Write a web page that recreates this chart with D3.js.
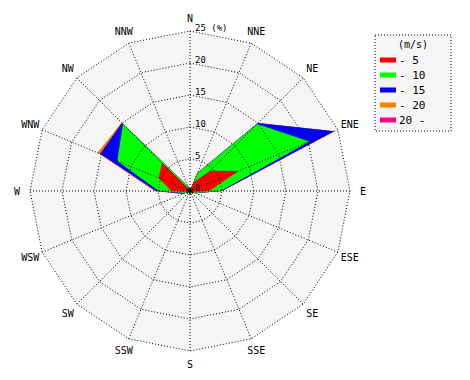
<!DOCTYPE html>
<html>
<head>
<meta charset="utf-8">
<script src="https://cdn.jsdelivr.net/npm/d3@7"></script>
<style>
  body { margin: 0; background: #fff; }
  text { font-family: "DejaVu Sans Mono", monospace; fill: #000; }
</style>
</head>
<body>
<svg id="rose" width="470" height="380"></svg>
<script>
// wind rose - frequency (%) by direction and speed class

var directions = ['N','NNE','NE','ENE','E','ESE','SE','SSE','S','SSW','SW','WSW','W','WNW','NW','NNW']
var speedClasses = ['- 5','- 10','- 15','- 20','20 -']
var classColors = ['#ff0000','#00ff00','#0000ff','#ff8000','#ff0080']

// per class frequency, %
var spd5   = [0, 1.5, 4.5, 8.2, 3.0, 0.3, 0, 0, 0, 0, 0, 0.3, 2.9, 5.3, 6.2, 0.3]
var spd10  = [0, 1.5, 10.3, 12.0, 1.8, 0.5, 0, 0, 0, 0, 0, 0.5, 2.0, 7.0, 8.6, 0.5]
var spd15  = [0, 0.1, 0.2, 4.2, 0.2, 0.1, 0, 0, 0, 0, 0, 0.3, 0.4, 2.9, 0.2, 0]
var spd20  = [0, 0, 0, 0, 0, 0, 0, 0, 0, 0, 0, 0.1, 0.2, 0.4, 0.1, 0]
var spd20p = [0, 0, 0, 0, 0, 0, 0, 0, 0, 0, 0, 0, 0, 0, 0, 0]

var ringValues = [5, 10, 15, 20, 25]
var ringLabels = ['5', '10', '15', '20', '25 (%)']

var svg = d3.select('#rose'),
	cx = 190, cy = 191, outer = 160,
	g = svg.append('g').attr('transform', 'translate(' + cx + ',' + cy + ')')

var r = d3.scaleLinear().domain([0, 25]).range([0, outer])
var angle = d3.scalePoint().domain(directions).range([0, 2 * Math.PI * 15 / 16])

var radial = d3.lineRadial().curve(d3.curveLinearClosed)
	.angle(function(d) { return angle(d.dir) })
	.radius(function(d) { return r(d.value) })

// background polygon
g.append('path')
	.attr('d', radial(directions.map(function(d) { return {dir: d, value: 25} })))
	.attr('fill', '#f5f5f5')

// cumulative stacks, outermost drawn first
var series = [spd5, spd10, spd15, spd20, spd20p]
var cumulative = []
series.forEach(function(s, k) {
	cumulative.push(s.map(function(v, i) { return v + (k ? cumulative[k - 1][i] : 0) }))
})

for (var k = series.length - 1; k >= 0; k--) {
	g.append('path')
		.attr('d', radial(directions.map(function(d, i) { return {dir: d, value: cumulative[k][i]} })))
		.attr('fill', classColors[k])
}

// grid rings and spokes, dotted
ringValues.forEach(function(v) {
	g.append('path')
		.attr('d', radial(directions.map(function(d) { return {dir: d, value: v} })))
		.attr('fill', 'none').attr('stroke', '#000')
		.attr('stroke-dasharray', '1,2')
})

directions.forEach(function(d) {
	var a = angle(d)
	g.append('line')
		.attr('x1', 0).attr('y1', 0)
		.attr('x2', r(25) * Math.sin(a)).attr('y2', -r(25) * Math.cos(a))
		.attr('stroke', '#000').attr('stroke-dasharray', '1,2')
})

// direction labels
directions.forEach(function(d) {
	var a = angle(d), lr = outer + 13
	g.append('text').text(d)
		.attr('x', lr * Math.sin(a)).attr('y', -lr * Math.cos(a))
		.attr('text-anchor', 'middle').attr('dominant-baseline', 'central')
		.attr('font-size', '10px')
})

// ring labels along the north spoke
g.append('text').text('0').attr('x', 5).attr('y', 0).attr('font-size', '8px')
ringValues.forEach(function(v, i) {
	g.append('text').text(ringLabels[i])
		.attr('x', 5).attr('y', -r(v))
		.attr('font-size', '9px')
})

// centre marker
g.append('path').attr('d', d3.symbol().type(d3.symbolAsterisk).size(30)())
	.attr('stroke', '#000').attr('stroke-width', 1.5)

// legend
var legend = svg.append('g').attr('transform', 'translate(375,35)')
legend.append('rect').attr('width', 76).attr('height', 96)
	.attr('fill', '#f5f5f5').attr('stroke', '#000').attr('stroke-dasharray', '1,2')
legend.append('text').text('(m/s)').attr('x', 38).attr('y', 13)
	.attr('text-anchor', 'middle').attr('font-size', '10px')

var ly = d3.scalePoint().domain(speedClasses).range([25, 85])
speedClasses.forEach(function(c, i) {
	legend.append('rect').attr('x', 5).attr('y', ly(c) - 2.5)
		.attr('width', 16).attr('height', 5).attr('fill', classColors[i])
	legend.append('text').text(c).attr('x', 24).attr('y', ly(c))
		.attr('dominant-baseline', 'central').attr('font-size', '11px')
})
</script>
</body>
</html>
